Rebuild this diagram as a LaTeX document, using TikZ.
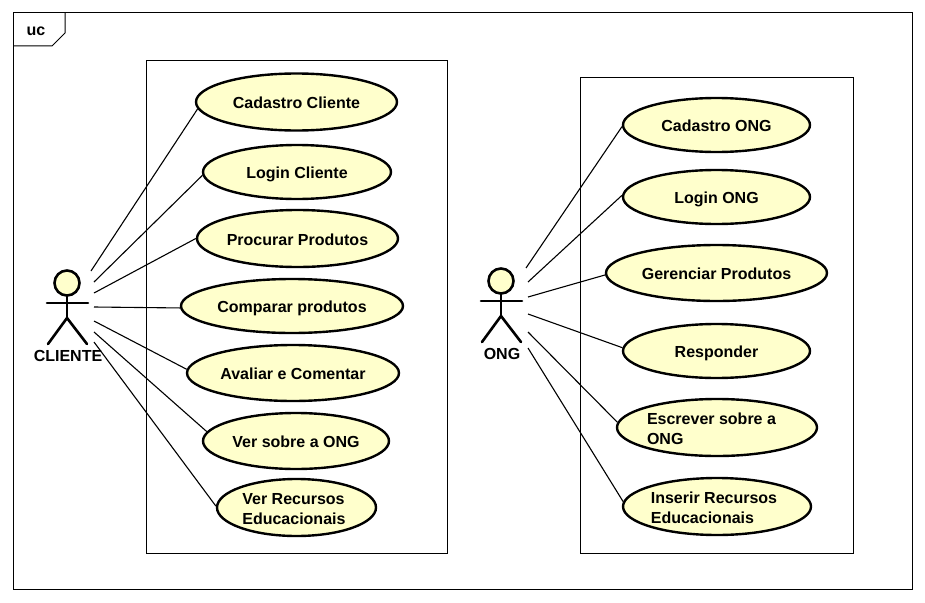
\documentclass[tikz,border=0pt]{standalone}
\usepackage{fontspec}
\setmainfont{Liberation Sans}
\usepackage{tikz}
\usetikzlibrary{shapes.geometric}
\definecolor{ucfill}{RGB}{255,255,204}
\tikzset{
  casenode/.style={ellipse, draw=black, line width=2.4pt, fill=ucfill, inner sep=0pt, align=left, font=\fontsize{16}{20}\selectfont\bfseries},
  actorline/.style={line width=2.6pt, line cap=round},
  assoc/.style={line width=1.1pt},
  boxline/.style={line width=1pt}
}
\newcommand{\casestrut}{\rule[-3.5pt]{0pt}{20pt}}
\newcommand{\ucase}[6]{\node[casenode, minimum width=#4pt, minimum height=#5pt] (#1) at (#2,#3) {\casestrut #6};}
\newcommand{\actor}[4]{
  \draw[actorline, fill=ucfill] (#2,#3-13) circle (12.5);
  \draw[actorline] (#2,#3) -- (#2,#3+22);
  \draw[actorline] (#2-20,#3+7) -- (#2+21,#3+7);
  \draw[actorline] (#2-19,#3+48) -- (#2,#3+22) -- (#2+20,#3+48);
  \node[font=\fontsize{16}{18}\selectfont\bfseries] (#1) at (#2+1,#3+59.5) {#4};
}
\begin{document}
\begin{tikzpicture}[x=1pt, y=-1pt]
    \useasboundingbox (0,0) rectangle (925,602);
    % frame
    \draw[boxline] (13,13) rectangle (912,589);
    \draw[boxline] (65,13) -- (65,33) -- (52,46) -- (13,46);
    \node[font=\fontsize{16}{18}\selectfont\bfseries] (uc) at (36,31) {uc};
    % system boxes
    \draw[boxline] (146,60) rectangle (447,553);
    \draw[boxline] (580,77) rectangle (853,553);
    % actors
    \actor{cliente}{67}{296}{CLIENTE}
    \actor{ong}{501}{294}{ONG}
    % left cases
    \ucase{cadcli}{296.5}{102}{201}{57}{Cadastro Cliente}
    \ucase{logcli}{297}{172}{188}{54}{Login Cliente}
    \ucase{procura}{297.5}{238.5}{201}{57}{Procurar Produtos}
    \ucase{compara}{292}{306}{222}{54}{Comparar produtos}
    \ucase{avalia}{293}{373}{212}{56}{Avaliar e Comentar}
    \ucase{versobre}{296}{441}{186}{56}{Ver sobre a ONG}
    \ucase{verrec}{296.5}{507.5}{159}{57}{Ver Recursos\hspace*{6pt}\\\casestrut Educacionais}
    % right cases
    \ucase{cadong}{716.5}{125}{187}{54}{Cadastro ONG}
    \ucase{logong}{716.5}{197}{187}{54}{Login ONG}
    \ucase{gerencia}{716.5}{273}{221}{56}{Gerenciar Produtos}
    \ucase{responde}{716.5}{351}{187}{54}{Responder}
    \ucase{escreve}{717}{427.5}{200}{57}{Escrever sobre a\hspace*{11pt}\\\casestrut ONG}
    \ucase{insere}{717}{506.5}{188}{57}{Inserir Recursos\hspace*{6pt}\\\casestrut Educacionais}
    % free ends near the actors
    \coordinate (c1) at (91,271);
    \coordinate (c2) at (94,282);
    \coordinate (c3) at (94,293);
    \coordinate (c4) at (94,307);
    \coordinate (c5) at (94,321);
    \coordinate (c6) at (94,332);
    \coordinate (c7) at (94,342);
    \coordinate (o1) at (526,268);
    \coordinate (o2) at (528,282);
    \coordinate (o3) at (528,297);
    \coordinate (o4) at (528,314);
    \coordinate (o5) at (528,332);
    \coordinate (o6) at (528,348);
    % left connectors
    \draw[assoc] (c1) -- (cadcli.184.6);
    \draw[assoc] (c2) -- (logcli.182.5);
    \draw[assoc] (c3) -- (procura.180);
    \draw[assoc] (c4) -- (compara.181);
    \draw[assoc] (c5) -- (avalia.178);
    \draw[assoc] (c6) -- (versobre.174);
    \draw[assoc] (c7) -- (verrec.179);
    % right connectors
    \draw[assoc] (o1) -- (cadong.181);
    \draw[assoc] (o2) -- (logong.179);
    \draw[assoc] (o3) -- (gerencia.181);
    \draw[assoc] (o4) -- (responde.178);
    \draw[assoc] (o5) -- (escreve.177);
    \draw[assoc] (o6) -- (insere.177);
\end{tikzpicture}
\end{document}
